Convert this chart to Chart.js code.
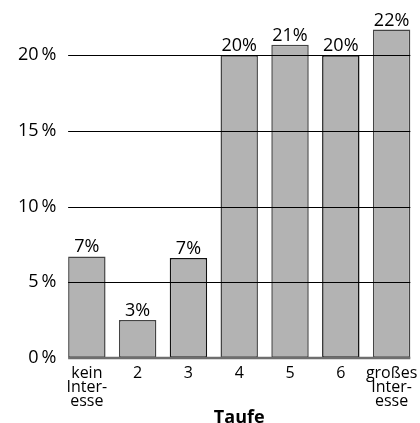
<!DOCTYPE html>
<html>
<head>
<meta charset="utf-8">
<script src="https://cdn.jsdelivr.net/npm/chart.js@4.4.1/dist/chart.umd.min.js"></script>
<style>
  html, body { margin: 0; padding: 0; background: #fff; }
</style>
</head>
<body>
<canvas id="taufe" width="420" height="423"></canvas>
<script>
// Interesse an der Taufe, Anteile in Prozent
const kategorien = [['kein', 'Inter-', 'esse'], '2', '3', '4', '5', '6', ['großes', 'Inter-', 'esse']];
const anteile = [6.7, 2.5, 6.6, 20.0, 20.7, 20.0, 21.7];
const yTicks = [0, 5, 10, 15, 20];
const achsenTitel = 'Taufe';

const schrift = '"Open Sans", "DejaVu Sans", sans-serif';

// Hilfslinien über den Balken + Prozentwerte
const linien = {
  id: 'linien',
  afterDatasetsDraw(chart) {
    const ctx = chart.ctx;
    const y = chart.scales.y;
    const bars = chart.getDatasetMeta(0).data;
    const erster = bars[0], letzter = bars[bars.length - 1];
    const x0 = erster.x - erster.width / 2;
    const x1 = letzter.x + letzter.width / 2;
    ctx.save();
    yTicks.forEach(v => {
      const py = Math.round(y.getPixelForValue(v)) + (v === 0 ? 0 : 0.5);
      ctx.beginPath();
      ctx.lineWidth = v === 0 ? 2.5 : 1;
      ctx.strokeStyle = v === 0 ? '#6e6e6e' : '#000';
      ctx.moveTo(x0, py);
      ctx.lineTo(x1, py);
      ctx.stroke();
    });
    ctx.font = '18px ' + schrift;
    ctx.fillStyle = '#000';
    ctx.textAlign = 'center';
    ctx.textBaseline = 'alphabetic';
    bars.forEach((b, i) => ctx.fillText(Math.round(anteile[i]) + '%', b.x, b.y - 4));
    ctx.restore();
  }
};

new Chart(document.getElementById('taufe'), {
  type: 'bar',
  data: {
    labels: kategorien,
    datasets: [{
      data: anteile,
      backgroundColor: '#b3b3b3',
      borderColor: ['#444', '#444', '#111', '#444', '#444', '#111', '#444'],
      borderWidth: 1.5,
      borderSkipped: false,
      categoryPercentage: 0.737,
      barPercentage: 1
    }]
  },
  options: {
    responsive: false,
    animation: false,
    layout: { padding: { top: 25, left: 13, right: 3, bottom: -4 } },
    plugins: { legend: { display: false }, tooltip: { enabled: false } },
    scales: {
      x: {
        offset: true,
        grid: { display: false },
        border: { display: false },
        ticks: {
          color: '#000',
          font: { family: schrift, size: 16, lineHeight: 0.9 },
          padding: 0,
          maxRotation: 0,
          autoSkip: false
        },
        title: {
          display: true,
          text: achsenTitel,
          color: '#000',
          font: { family: schrift, size: 18, weight: 'bold', lineHeight: 1 },
          padding: { top: 0, bottom: 0 }
        }
      },
      y: {
        min: 0,
        max: 22,
        afterBuildTicks: scale => {
          scale.ticks = yTicks.map(v => ({ value: v }));
        },
        grid: { display: false, drawTicks: false },
        border: { display: false },
        ticks: {
          color: '#000',
          font: { family: schrift, size: 18 },
          padding: 5,
          callback: v => v + '\u2009%'
        }
      }
    }
  },
  plugins: [linien]
});
</script>
</body>
</html>
